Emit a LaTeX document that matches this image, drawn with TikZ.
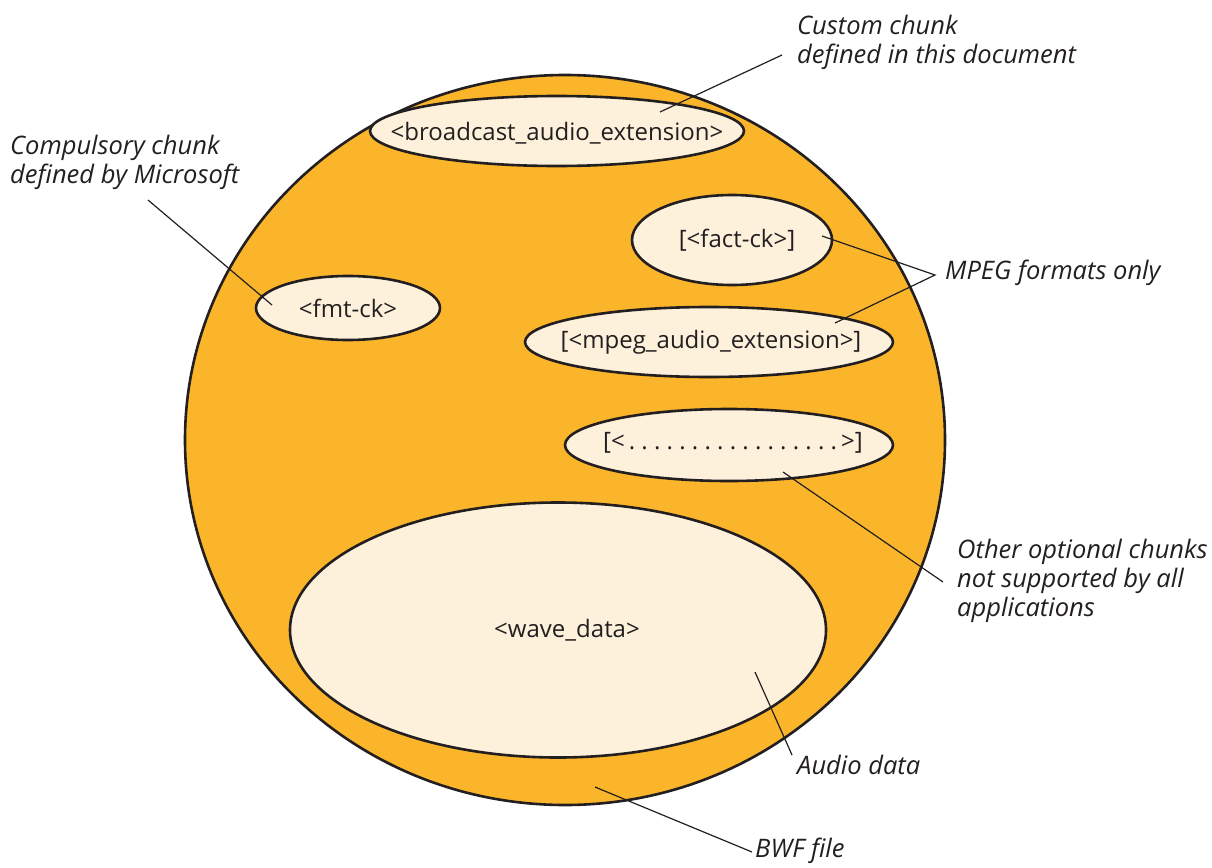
\documentclass[tikz,border=0pt]{standalone}
\usepackage{fontspec}
\setmainfont{Open Sans}
\usetikzlibrary{shapes.geometric}
\definecolor{bwforange}{HTML}{FBB52B}
\definecolor{chunkfill}{HTML}{FDF1DC}
\definecolor{inkc}{HTML}{231F20}
\tikzset{
  filebody/.style={draw=inkc, line width=2.6pt, fill=bwforange},
  chunk/.style={ellipse, draw=inkc, line width=2.6pt, fill=chunkfill, inner sep=0pt},
  chunktext/.style={inner sep=0pt, text=inkc, font=\fontsize{24}{28}\selectfont},
  note/.style={inner sep=0pt, text=inkc, align=left, font=\fontsize{25.5}{29}\selectfont\itshape},
  leader/.style={draw=inkc, line width=1.2pt}
}
\begin{document}
\begin{tikzpicture}[x=1pt,y=-1pt]
\useasboundingbox (0,0) rectangle (1212,867);
% the BWF file
\node[ellipse, filebody, minimum width=760pt, minimum height=730pt, inner sep=0pt] (bwf) at (565,440) {};
% chunks
\node[chunk, minimum width=374pt, minimum height=70pt] (bae) at (557,131) {};
\node[chunktext] (baet) at (557,133) {<broadcast\_audio\_extension>};
\node[chunk, minimum width=200pt, minimum height=90pt] (fact) at (732,240) {};
\node[chunktext] (factt) at (737,240) {[<fact-ck>]};
\node[chunk, minimum width=184pt, minimum height=64pt] (fmt) at (348,308) {};
\node[chunktext] (fmtt) at (348,308) {<fmt-ck>};
\node[chunk, minimum width=368pt, minimum height=70pt] (mpeg) at (709,342) {};
\node[chunktext] (mpegt) at (711,342) {[<mpeg\_audio\_extension>]};
\node[chunk, minimum width=328pt, minimum height=72pt] (other) at (729,445) {};
\node[chunktext] (othert) at (733,443) {[<\,.\ .\ .\ .\ .\ .\ .\ .\ .\ .\ .\ .\ .\ .\ .\ .\ .\,>]};
\node[chunk, minimum width=536pt, minimum height=255pt] (wave) at (558,630) {};
\node[chunktext] (wavet) at (567,630) {<wave\_data>};
% notes
\node[note, anchor=north west] (custom) at (797,15) {Custom chunk\\defined in this document};
\node[note, anchor=north west] (compulsory) at (10,135) {Compulsory chunk\\defined by Microsoft};
\node[note, anchor=west] (mpegnote) at (945,273) {MPEG formats only};
\node[note, anchor=north west] (optional) at (957,539) {Other optional chunks\\not supported by all\\applications};
\node[note, anchor=north west] (audio) at (797,755) {Audio data};
\node[note, anchor=north west] (bwfnote) at (755,838) {BWF file};
% leader end points
\coordinate (customtip) at (782,55);
\coordinate (baein) at (660,112);
\coordinate (compulsorytip) at (148,200);
\coordinate (fmtin) at (272,305);
\coordinate (mpegtip) at (935,275);
\coordinate (factin) at (822,236);
\coordinate (mpegin) at (835,323);
\coordinate (optionaltip) at (943,582);
\coordinate (otherin) at (783,472);
\coordinate (audiotip) at (792,755);
\coordinate (wavein) at (755,672);
\coordinate (bwftip) at (752,852);
\coordinate (bwfin) at (595,787);
% leaders
\draw[leader] (baein) -- (customtip);
\draw[leader] (fmtin) -- (compulsorytip);
\draw[leader] (factin) -- (mpegtip) -- (mpegin);
\draw[leader] (otherin) -- (optionaltip);
\draw[leader] (wavein) -- (audiotip);
\draw[leader] (bwfin) -- (bwftip);
\end{tikzpicture}
\end{document}
